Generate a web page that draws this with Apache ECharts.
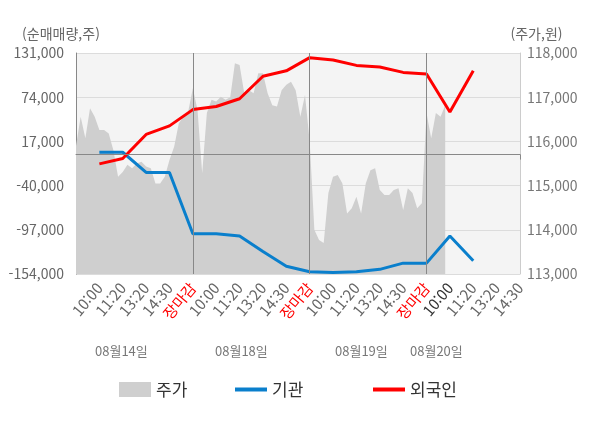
<!DOCTYPE html>
<html lang="ko">
<head>
    <meta charset="UTF-8">
    <title>기관/외국인 순매매량과 주가</title>
    <script src="https://cdn.jsdelivr.net/npm/echarts@6/dist/echarts.min.js"></script>
    <style>
        body, html {
            margin: 0;
            padding: 0;
            background: #fff;
        }
        #main {
            width: 600px;
            height: 428px;
        }
    </style>
</head>
<body>
<div id="main"></div>

<script>
    // 눈금 하나(라벨 간격)를 몇 칸으로 나눌지
    const STEP = 5;

    const tickLabels = ['', '10:00', '11:20', '13:20', '14:30', '장마감',
        '10:00', '11:20', '13:20', '14:30', '장마감',
        '10:00', '11:20', '13:20', '14:30', '장마감',
        '10:00', '11:20', '13:20', '14:30'];

    const dayLabels = ['08월14일', '08월18일', '08월19일', '08월20일'];

    // 주가 (원), 칸 단위
    const priceValues = [
        115900, 116560, 116070, 116750, 116560, 116260, 116260, 116180, 115800, 115200,
        115310, 115470, 115390, 115500, 115540, 115430, 115390, 115050, 115050, 115200,
        115580, 115880, 116410, 116560, 116670,
        117200, 116710, 115280, 116640, 116940, 116900, 117010, 116940, 117000, 117770,
        117730, 117090, 117160, 117090, 117540, 117540, 117090, 116820, 116790, 117160,
        117280, 117350, 117160, 116560, 117050,
        116000, 114000, 113770, 113700, 114830, 115200, 115240, 115050, 114370, 114490,
        114750, 114370, 115050, 115350, 115390, 114900, 114790, 114790, 114900, 114940,
        114450, 114940, 114830, 114490, 114600,
        116640, 116070, 116640, 116560, 116820
    ];

    // 순매매량 (주), 라벨 위치마다 (10:00 첫날부터)
    const instValues = [3000, 3000, -23000, -23000, -102000, -102000, -105000, -125000, -144000,
        -151000, -152000, -151000, -148000, -140000, -140000, -105000, -137000];
    const foreignValues = [-12000, -5000, 26000, 37000, 58000, 62000, 72000, 101000, 108000,
        125000, 122000, 115000, 113000, 106000, 104000, 55000, 108000];

    const total = (tickLabels.length - 1) * STEP + 1;
    const categories = [];
    for (let i = 0; i < total; i++) categories.push(String(i));

    function spread(vals) {
        let arr = new Array(total).fill(null);
        for (let k = 0; k < vals.length; k++) arr[(k + 1) * STEP] = vals[k];
        return arr;
    }
    let priceData = new Array(total).fill(null);
    for (let i = 0; i < priceValues.length; i++) priceData[i] = priceValues[i];

    const FONT = 'Noto Sans CJK KR';
    const dayEnd = STEP * 5;
    const legendText = {fontSize: 17, color: '#333', fontFamily: FONT};

    var chart = echarts.init(document.getElementById('main'));

    var option = {
        animation: false,
        textStyle: {fontFamily: FONT},
        grid: {
            left: 76, right: 80, top: 53, bottom: 154,
            show: true,
            backgroundColor: '#f4f4f4',
            borderWidth: 0
        },
        legend: [
            {left: 114, top: 376, itemWidth: 32, itemHeight: 15,
                data: [{name: '주가', icon: 'rect'}], textStyle: legendText},
            {left: 230, top: 376, itemWidth: 32, itemHeight: 4,
                data: [{name: '기관', icon: 'rect'}], textStyle: legendText},
            {left: 368, top: 376, itemWidth: 32, itemHeight: 4,
                data: [{name: '외국인', icon: 'rect'}], textStyle: legendText}
        ],
        xAxis: {
            type: 'category',
            boundaryGap: false,
            data: categories,
            axisLine: {lineStyle: {color: '#888'}},
            axisTick: {
                length: 5,
                lineStyle: {color: '#888'},
                interval: function (i) { return i % dayEnd === 0 || i === total - 1; }
            },
            axisLabel: {
                interval: function (i) { return i % STEP === 0 && i > 0; },
                rotate: 50,
                margin: 11,
                fontSize: 15,
                fontFamily: FONT,
                formatter: function (v, i) { return tickLabels[i / STEP]; },
                color: function (v, i) {
                    let idx = Number(v);
                    if (tickLabels[idx / STEP] === '장마감') return '#ff0000';
                    if (idx === STEP * 16) return '#333';
                    return '#666';
                }
            },
            splitLine: {show: false}
        },
        yAxis: [
            {
                type: 'value',
                min: -154000,
                max: 131000,
                interval: 57000,
                name: '(순매매량,주)',
                nameLocation: 'end',
                nameGap: 12,
                nameTextStyle: {fontSize: 14, color: '#666', fontFamily: FONT, padding: [0, 30, 0, 0]},
                axisLine: {show: true, lineStyle: {color: '#888'}},
                axisTick: {show: false},
                axisLabel: {
                    fontSize: 14, color: '#666', margin: 12, fontFamily: FONT,
                    formatter: function (v) { return v.toLocaleString('en-US'); }
                },
                splitLine: {lineStyle: {color: '#dcdcdc'}}
            },
            {
                type: 'value',
                min: 113000,
                max: 118000,
                interval: 1000,
                name: '(주가,원)',
                nameLocation: 'end',
                nameGap: 12,
                nameTextStyle: {fontSize: 14, color: '#666', fontFamily: FONT, padding: [0, 0, 0, 33]},
                axisLine: {show: true, lineStyle: {color: '#ccc'}},
                axisTick: {show: false},
                axisLabel: {
                    fontSize: 14, color: '#777', margin: 7, fontFamily: FONT,
                    formatter: function (v) { return v.toLocaleString('en-US'); }
                },
                splitLine: {show: false}
            }
        ],
        graphic: dayLabels.map(function (d, k) {
            const xs = [125, 245, 365, 440];
            return {
                type: 'text',
                left: xs[k] - 30,
                top: 345,
                style: {text: d, fontSize: 13, fill: '#777', fontFamily: FONT}
            };
        }),
        series: [
            {
                name: '주가',
                type: 'line',
                yAxisIndex: 1,
                data: priceData,
                symbol: 'none',
                itemStyle: {color: '#cfcfcf'},
                lineStyle: {width: 0, color: '#cfcfcf'},
                areaStyle: {color: '#cfcfcf', opacity: 1, origin: 'start'},
                z: 1
            },
            {
                name: '기관',
                type: 'line',
                yAxisIndex: 0,
                data: spread(instValues),
                connectNulls: true,
                symbol: 'none',
                itemStyle: {color: '#0a7fcc'},
                lineStyle: {width: 3, color: '#0a7fcc'},
                z: 3,
                markLine: {
                    silent: true,
                    symbol: 'none',
                    label: {show: false},
                    lineStyle: {color: '#888', width: 1, type: 'solid'},
                    data: [
                        {yAxis: 0},
                        {xAxis: String(dayEnd)},
                        {xAxis: String(dayEnd * 2)},
                        {xAxis: String(dayEnd * 3)}
                    ]
                }
            },
            {
                name: '외국인',
                type: 'line',
                yAxisIndex: 0,
                data: spread(foreignValues),
                connectNulls: true,
                symbol: 'none',
                itemStyle: {color: '#ff0000'},
                lineStyle: {width: 3, color: '#ff0000'},
                z: 4
            }
        ]
    };

    chart.setOption(option);
</script>
</body>
</html>
